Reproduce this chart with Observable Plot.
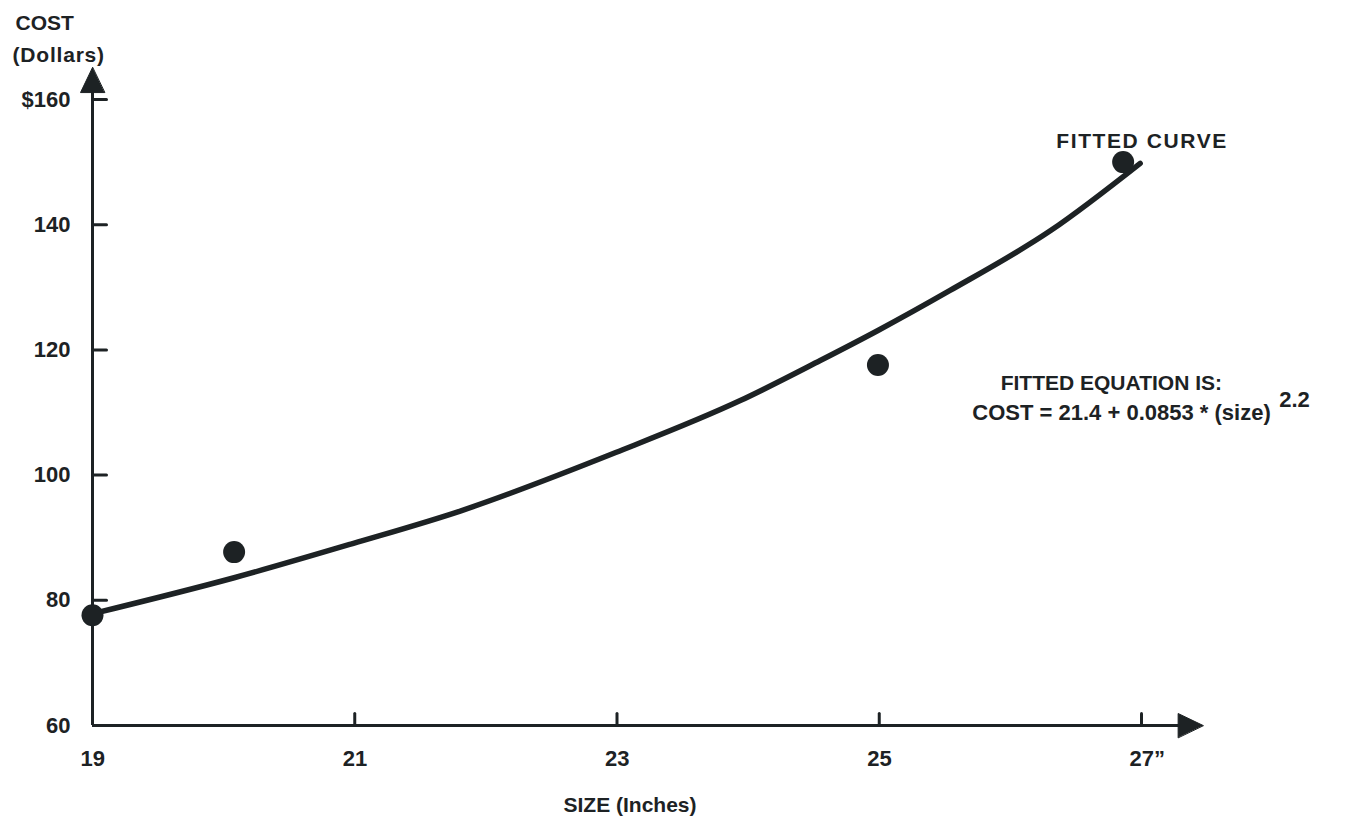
<!DOCTYPE html>
<html>
<head>
<meta charset="utf-8">
<script src="https://cdn.jsdelivr.net/npm/d3@7"></script>
<script src="https://cdn.jsdelivr.net/npm/@observablehq/plot@0.6"></script>
<style>
  body { margin: 0; background: #fff; }
  svg text { font-family: "Liberation Sans", Arial, Helvetica, sans-serif; font-weight: bold; }
  .wide text { letter-spacing: 1.6px; }
  .dollars text { letter-spacing: 0.8px; }
</style>
</head>
<body>
<div id="chart"></div>
<script>
// Observed data points (size in inches, cost in dollars)
const pointSize = [19, 20.08, 24.99, 26.86];
const pointCost = [77.6, 87.7, 117.6, 150];

// Fitted curve as drawn
const curveSize = [19.01, 20.08, 20.99, 21.81, 22.99, 23.94, 24.55, 24.99, 25.54, 26.31, 26.99];
const curveCost = [77.9, 83.6, 89.1, 94.3, 103.6, 111.9, 118.3, 123.1, 129.5, 139.1, 149.8];

// Axis ticks and labels
const xTickValues = [21, 23, 25, 27];
const xLabelValues = [19, 21, 23, 25, 27];
const xLabelTexts = ["19", "21", "23", "25", "27\u201D"];
const yTickValues = [80, 100, 120, 140, 160];
const yLabelValues = [60, 80, 100, 120, 140, 160];
const yLabelTexts = ["60", "80", "100", "120", "140", "$160"];

const points = pointSize.map((s, i) => ({size: s, cost: pointCost[i]}));
const curve = curveSize.map((s, i) => ({size: s, cost: curveCost[i]}));
const xLabels = xLabelValues.map((v, i) => ({v, t: xLabelTexts[i]}));
const yLabels = yLabelValues.map((v, i) => ({v, t: yLabelTexts[i]}));

const ink = "#1d2224";
const tickShape = {draw(ctx, l) { ctx.moveTo(0, 0); ctx.lineTo(0, -l); }};
// filled arrowhead with its tip at the anchor point, pointing "up" before rotation
const headShape = {draw(ctx) { ctx.moveTo(0, 0); ctx.lineTo(-12, 25); ctx.lineTo(12, 25); ctx.closePath(); }};

const chart = Plot.plot({
  width: 1357,
  height: 825,
  marginLeft: 92,
  marginRight: 216,
  marginTop: 99,
  marginBottom: 100,
  style: {background: "#fff", overflow: "visible"},
  x: {domain: [19, 27], axis: null},
  y: {domain: [60, 160], axis: null},
  marks: [
    // axis lines
    Plot.ruleY([60], {x1: 19, x2: 27.3, stroke: ink, strokeWidth: 3}),
    Plot.ruleX([19], {y1: 60, y2: 161.5, stroke: ink, strokeWidth: 3}),
    // arrowheads
    Plot.vector([{x: 27.47, y: 60, r: 90}, {x: 19, y: 165.1, r: 0}], {
      x: "x", y: "y", rotate: "r", length: 25, anchor: "start", shape: headShape, fill: ink, stroke: ink, strokeWidth: 1
    }),
    // ticks
    Plot.vector(yTickValues, {x: () => 19, y: d => d, length: 14, rotate: 90, anchor: "start", shape: tickShape, stroke: ink, strokeWidth: 3}),
    Plot.vector(xTickValues, {x: d => d, y: () => 60, length: 12, rotate: 0, anchor: "start", shape: tickShape, stroke: ink, strokeWidth: 3}),
    // tick labels
    Plot.text(yLabels, {x: () => 19, y: "v", text: "t", dx: -22, textAnchor: "end", fontSize: 22, fontWeight: "bold", fill: ink}),
    Plot.text(xLabels, {x: "v", y: () => 60, text: "t", dx: -12, dy: 33, textAnchor: "start", fontSize: 22, fontWeight: "bold", fill: ink}),
    // axis titles
    Plot.text(["COST"], {frameAnchor: "top-left", lineAnchor: "middle", dx: -77, dy: -76, textAnchor: "start", fontSize: 21, fontWeight: "bold", fill: ink}),
    Plot.text(["(Dollars)"], {frameAnchor: "top-left", lineAnchor: "middle", dx: -80, dy: -44, textAnchor: "start", fontSize: 21, fontWeight: "bold", fill: ink, className: "dollars"}),
    Plot.text(["SIZE (Inches)"], {frameAnchor: "bottom", lineAnchor: "middle", dx: 13, dy: 80, fontSize: 21, fontWeight: "bold", fill: ink}),
    // fitted curve and points
    Plot.line(curve, {x: "size", y: "cost", curve: "monotone-x", stroke: ink, strokeWidth: 5.5, strokeLinecap: "round"}),
    Plot.dot(points, {x: "size", y: "cost", r: 11, fill: ink, stroke: "none"}),
    // annotations
    Plot.text(["FITTED CURVE"], {x: () => 26.35, y: () => 153.4, textAnchor: "start", fontSize: 21, fontWeight: "bold", fill: ink, className: "wide"}),
    Plot.text(["FITTED EQUATION IS:"], {x: () => 26.77, y: () => 114.6, textAnchor: "middle", fontSize: 21, fontWeight: "bold", fill: ink}),
    Plot.text(["COST = 21.4 + 0.0853 * (size)"], {x: () => 25.71, y: () => 110.0, textAnchor: "start", fontSize: 22, fontWeight: "bold", fill: ink}),
    Plot.text(["2.2"], {x: () => 28.05, y: () => 112.0, textAnchor: "start", fontSize: 22, fontWeight: "bold", fill: ink})
  ]
});

document.getElementById("chart").appendChild(chart);
</script>
</body>
</html>
